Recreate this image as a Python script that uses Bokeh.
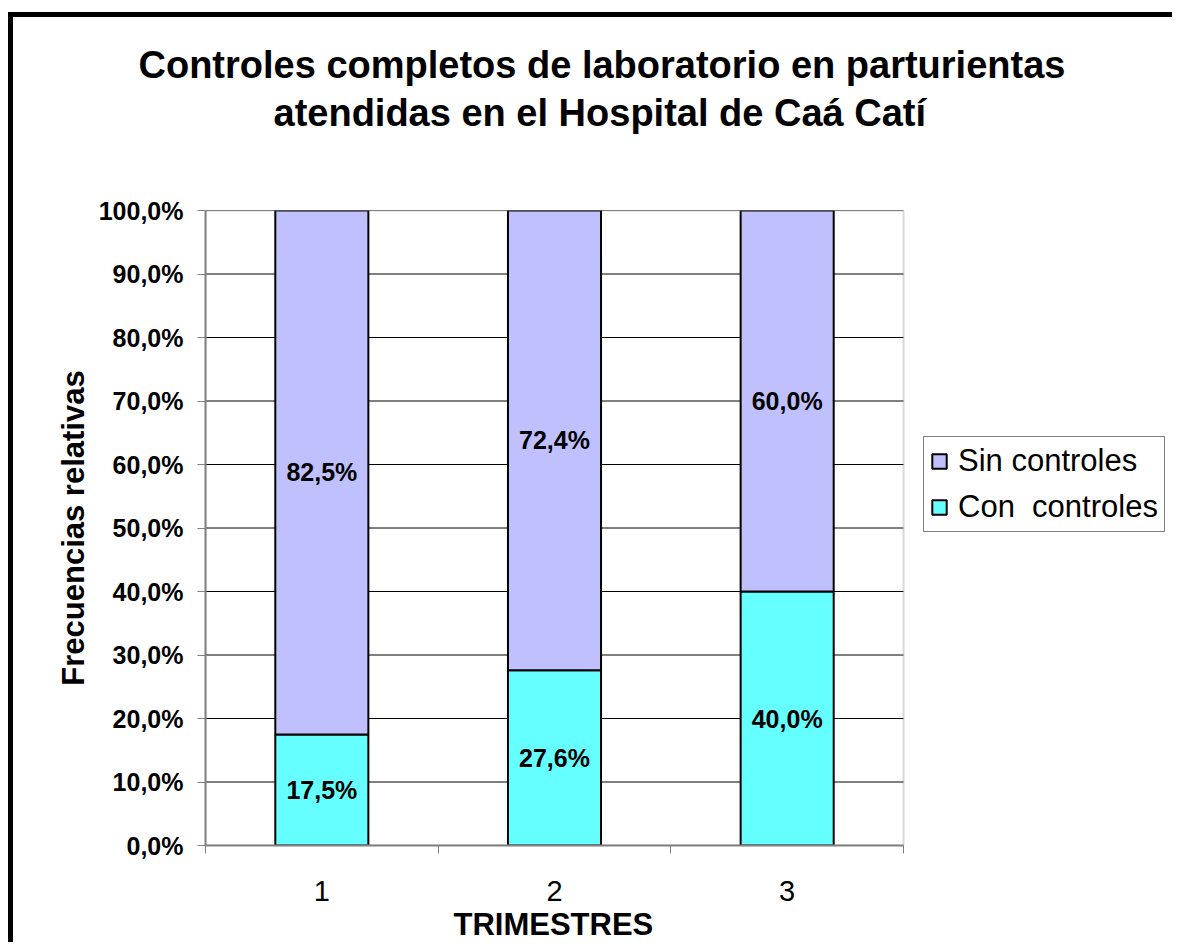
from bokeh.plotting import figure
from bokeh.models import (LabelSet, Legend, LegendItem, FixedTicker,
                          ColumnDataSource, Range1d, Title, BoxAnnotation)
from bokeh.core.properties import value
from bokeh.embed import file_html
from bokeh.resources import INLINE

# ---- data ----
trimestres = ["1", "2", "3"]
x_pos = [1, 2, 3]
con_controles = [17.5, 27.6, 40.0]
sin_controles = [82.5, 72.4, 60.0]
y_ticks = [0, 10, 20, 30, 40, 50, 60, 70, 80, 90, 100]
y_tick_labels = ["0,0%", "10,0%", "20,0%", "30,0%", "40,0%", "50,0%",
                 "60,0%", "70,0%", "80,0%", "90,0%", "100,0%"]
series_names = ["Sin controles", "Con  controles"]
title_lines = ["Controles completos de laboratorio en parturientas",
               "atendidas en el Hospital de Caá Catí"]
x_title = "TRIMESTRES"
y_title = "Frecuencias relativas"

FONT = "Liberation Sans"
C_CON = "#66FFFF"
C_SIN = "#C0C0FF"
GRAY = "#808080"

# layout: chart area is 698 px wide for the 3 categories; the frame runs on
# to the right edge so the legend can sit inside it
X0, X1 = 0.5, 3.5
FRAME_W = 1164 - 192
X_END = X0 + FRAME_W * (X1 - X0) / 698


def fmt(v):
    return f"{v:.1f}".replace(".", ",") + "%"


source = ColumnDataSource(dict(
    x=x_pos,
    con=con_controles,
    sin=sin_controles,
    con_mid=[c / 2 for c in con_controles],
    sin_mid=[c + s / 2 for c, s in zip(con_controles, sin_controles)],
    con_lbl=[fmt(v) for v in con_controles],
    sin_lbl=[fmt(v) for v in sin_controles],
))

p = figure(width=1164, height=930, title=None,
           x_range=Range1d(X0, X_END), y_range=Range1d(0, 100),
           output_backend="svg", toolbar_location=None,
           min_border_left=192, min_border_right=0,
           min_border_top=193, min_border_bottom=102)
p.styles = {"border-left": "5px solid black", "border-top": "5px solid black",
            "margin-top": "12px", "margin-left": "8px"}

p.outline_line_color = None
p.background_fill_color = "white"
p.border_fill_color = "white"

# horizontal grid lines across the chart area only
p.xgrid.visible = False
p.ygrid.visible = False
p.segment(x0=[X0] * len(y_ticks), y0=y_ticks, x1=[X1] * len(y_ticks),
          y1=y_ticks, line_color="black", line_width=1)

renderers = p.vbar_stack(["con", "sin"], x="x", width=0.4, source=source,
                         fill_color=[C_CON, C_SIN], line_color="black",
                         line_width=2)

# plot-area border
p.add_layout(BoxAnnotation(left=X0, right=X1, bottom=0, top=100,
                           fill_alpha=0, line_color=GRAY, line_width=2))

# data labels
for col, lbl in (("con_mid", "con_lbl"), ("sin_mid", "sin_lbl")):
    ls = LabelSet(x="x", y=col, text=lbl, source=source,
                  text_align="center", text_baseline="middle",
                  text_font=value(FONT), text_font_size=value("25px"),
                  text_font_style=value("bold"), text_color="black")
    p.add_layout(ls)

# y axis
p.yaxis.ticker = FixedTicker(ticks=y_ticks)
p.yaxis.major_label_overrides = {t: l for t, l in zip(y_ticks, y_tick_labels)}
p.yaxis.axis_line_color = GRAY
p.yaxis.axis_line_width = 2
p.yaxis.major_tick_line_color = GRAY
p.yaxis.major_tick_line_width = 1
p.yaxis.major_tick_out = 8
p.yaxis.major_tick_in = 0
p.yaxis.minor_tick_line_color = None
p.yaxis.major_label_standoff = 14
p.yaxis.major_label_text_font = FONT
p.yaxis.major_label_text_font_size = "25px"
p.yaxis.major_label_text_font_style = "bold"
p.yaxis.major_label_text_color = "black"
p.yaxis.axis_label = y_title
p.yaxis.axis_label_text_font = FONT
p.yaxis.axis_label_text_font_size = "31px"
p.yaxis.axis_label_text_font_style = "bold"
p.yaxis.axis_label_text_color = "black"
p.yaxis.axis_label_standoff = 5

# x axis
p.xaxis.bounds = (X0, X1)
p.xaxis.ticker = FixedTicker(ticks=x_pos, minor_ticks=[0.5, 1.5, 2.5, 3.5])
p.xaxis.major_label_overrides = {t: l for t, l in zip(x_pos, trimestres)}
p.xaxis.axis_line_color = GRAY
p.xaxis.axis_line_width = 2
p.xaxis.major_tick_out = 0
p.xaxis.major_tick_in = 0
p.xaxis.minor_tick_out = 8
p.xaxis.minor_tick_in = 0
p.xaxis.minor_tick_line_color = GRAY
p.xaxis.major_label_standoff = 27
p.xaxis.major_label_text_font = FONT
p.xaxis.major_label_text_font_size = "29px"
p.xaxis.major_label_text_font_style = "normal"
p.xaxis.major_label_text_color = "black"

# x-axis title centred under the chart area (below the tick labels)
p.add_layout(Title(text=x_title, align="left", offset=248, standoff=2,
                   text_font=FONT, text_font_size="31px",
                   text_font_style="bold", text_color="black"), "below")

# title: spacer, then line 2, then line 1 (stacked outward from the frame)
p.add_layout(Title(text=" ", text_font_size="1px", standoff=72), "above")
p.add_layout(Title(text=title_lines[1], align="left", offset=68, standoff=4,
                   text_font=FONT, text_font_size="38px",
                   text_font_style="bold", text_color="black"), "above")
p.add_layout(Title(text=title_lines[0], align="left", offset=-67, standoff=4,
                   text_font=FONT, text_font_size="38px",
                   text_font_style="bold", text_color="black"), "above")

# legend (inside the extended frame, right of the chart area)
legend = Legend(items=[LegendItem(label=series_names[0], renderers=[renderers[1]]),
                       LegendItem(label=series_names[1], renderers=[renderers[0]])],
                location=(718, 313), orientation="vertical",
                label_text_font=FONT, label_text_font_size="31px",
                label_text_color="black", glyph_width=18, glyph_height=18,
                label_height=32, label_standoff=10, padding=6, spacing=10,
                margin=0, border_line_color="black", border_line_width=1,
                background_fill_color="white", background_fill_alpha=1)
p.add_layout(legend, "center")

open("out.html", "w").write(file_html(p, INLINE))
